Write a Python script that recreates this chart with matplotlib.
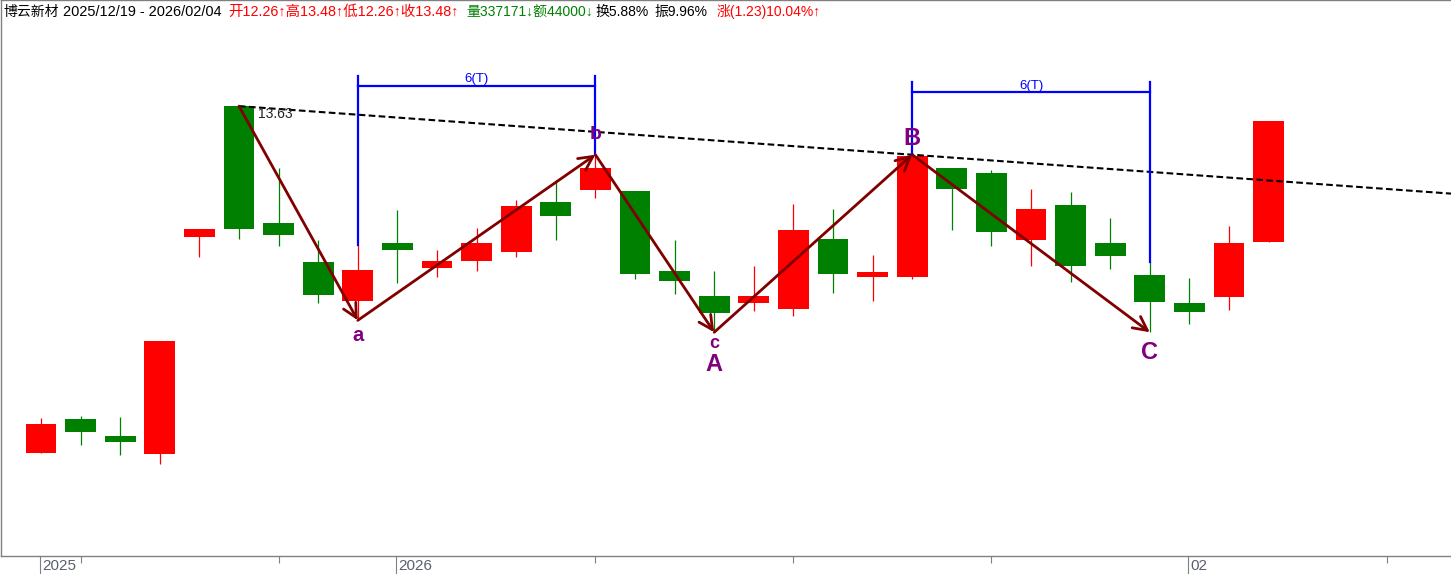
import matplotlib
matplotlib.use('Agg')
import matplotlib.pyplot as plt
from matplotlib.transforms import blended_transform_factory

# ---------------- data ----------------
opens  = [10.13, 10.48, 10.30, 10.12, 12.31, 13.63, 12.45, 12.06, 11.67, 12.25,
          12.00, 12.07, 12.16, 12.66, 12.78, 12.77, 11.97, 11.72, 11.64, 11.58,
          12.29, 11.91, 11.91, 13.01, 12.96, 12.28, 12.63, 12.25, 11.93, 11.65,
          11.71, 12.26]
highs  = [10.49, 10.51, 10.50, 11.26, 12.39, 13.63, 13.01, 12.28, 12.23, 12.58,
          12.18, 12.40, 12.68, 12.89, 13.14, 12.77, 12.28, 11.97, 12.02, 12.64,
          12.59, 12.13, 13.14, 13.01, 12.99, 12.79, 12.76, 12.50, 12.06, 11.90,
          12.42, 13.48]
lows   = [10.13, 10.21, 10.11, 10.02, 12.11, 12.29, 12.22, 11.65, 11.47, 11.85,
          11.91, 11.97, 12.11, 12.28, 12.70, 11.89, 11.74, 11.35, 11.56, 11.51,
          11.75, 11.67, 11.89, 12.38, 12.22, 12.02, 11.86, 11.99, 11.35, 11.43,
          11.57, 12.26]
closes = [10.43, 10.34, 10.24, 11.26, 12.39, 12.39, 12.33, 11.73, 11.98, 12.18,
          12.07, 12.25, 12.62, 12.52, 13.01, 11.94, 11.87, 11.54, 11.72, 12.38,
          11.94, 11.96, 13.13, 12.79, 12.36, 12.59, 12.02, 12.12, 11.66, 11.55,
          12.25, 13.48]

# wave points (candle index, price) and labels
wave_x = [5, 8, 14, 17, 22, 28]
wave_y = [13.63, 11.47, 13.14, 11.35, 13.14, 11.35]
trend_x = [5, 22]
trend_y = [13.63, 13.14]

x_labels = ["2025", "2026", "02"]
x_label_idx = [0, 9, 29]
minor_tick_idx = [1, 6, 14, 19, 24, 34]

header_parts = [
    (3,   "博云新材", "black", 10),
    (63,  "2025/12/19 - 2026/02/04", "black", 10.45),
    (228, "开12.26↑高13.48↑低12.26↑收13.48↑", "#ff0000", 10.4),
    (466, "量337171↓额44000↓", "#008000", 10),
    (595, "换5.88%", "black", 10),
    (654, "振9.96%", "black", 10),
    (717, "涨(1.23)10.04%↑", "#ff0000", 10),
]

# ---------------- figure ----------------
W, H = 1451, 574
fig = plt.figure(figsize=(W / 100, H / 100), dpi=100)
fig.patch.set_facecolor('white')
ax = fig.add_axes([1 / W, 18 / H, (W - 1) / W, 556 / H])

X0, STEP = 41.0, 39.6
K = 1.22 / 121.0          # price per pixel
def price_at(row):
    return 13.48 - (row - 121) * K

ax.set_xlim((1 - X0) / STEP, (W - X0) / STEP)
ax.set_ylim(price_at(556), price_at(0))

RED, GREEN = '#ff0000', '#008000'
idx = list(range(len(opens)))
cols = [RED if c >= o else GREEN for o, c in zip(opens, closes)]

ax.vlines(idx, lows, highs, colors=cols, linewidth=0.9, zorder=2)
bottoms = [min(o, c) for o, c in zip(opens, closes)]
heights = [max(abs(c - o), 0.02) for o, c in zip(opens, closes)]
ax.bar(idx, heights, bottom=bottoms, width=0.78, color=cols, linewidth=0, zorder=3)

# dashed trend line through two highs, extended to the right edge
slope = (trend_y[1] - trend_y[0]) / (trend_x[1] - trend_x[0])
xr = ax.get_xlim()[1]
ax.plot([trend_x[0], xr], [trend_y[0], trend_y[0] + slope * (xr - trend_x[0])],
        color='black', lw=1.5, linestyle=(0, (3.2, 1.6)), zorder=4)
ax.text(trend_x[0] + 0.48, price_at(114), "13.63", fontsize=10,
        family=['Liberation Sans'], color='#222222', va='center', ha='left', zorder=5)

# blue time brackets
BLUE = '#0000ff'
def bracket(i1, i2, top_row, bar_row, low1, low2, text_row):
    ax.plot([i1, i1], [price_at(top_row), low1], color=BLUE, lw=1.6, zorder=5)
    ax.plot([i2, i2], [price_at(top_row), low2], color=BLUE, lw=1.6, zorder=5)
    ax.plot([i1, i2], [price_at(bar_row), price_at(bar_row)], color=BLUE, lw=1.6, zorder=5)
    ax.text((i1 + i2) / 2, price_at(text_row), "6(T)", color=BLUE, fontsize=9.5,
            family=['Liberation Sans'], ha='center', va='center', zorder=6)

bracket(8, 14, 76, 86, highs[8], wave_y[2], 79)
bracket(22, 28, 82, 92, wave_y[4], highs[28], 86)

# wave arrows
DR = '#800000'
for k in range(len(wave_x) - 1):
    ax.annotate("", xy=(wave_x[k + 1], wave_y[k + 1]), xytext=(wave_x[k], wave_y[k]),
                arrowprops=dict(arrowstyle='->,head_length=0.55,head_width=0.28',
                                color=DR, lw=2.0, shrinkA=0, shrinkB=0,
                                mutation_scale=18), zorder=7)

# wave labels
PUR = '#800080'
lbl_font = ['Liberation Sans']
ax.text(8, price_at(335), "a", color=PUR, fontsize=14.5, fontweight='bold', family=lbl_font,
        ha='center', va='center', zorder=8)
ax.text(14, price_at(134), "b", color=PUR, fontsize=14, fontweight='bold', family=lbl_font,
        ha='center', va='center', zorder=8)
ax.text(17, price_at(343), "c", color=PUR, fontsize=13, fontweight='bold', family=lbl_font,
        ha='center', va='center', zorder=8)
ax.text(17, price_at(364), "A", color=PUR, fontsize=17, fontweight='bold', family=lbl_font,
        ha='center', va='center', zorder=8)
ax.text(22, price_at(138), "B", color=PUR, fontsize=17, fontweight='bold', family=lbl_font,
        ha='center', va='center', zorder=8)
ax.text(28, price_at(352), "C", color=PUR, fontsize=17, fontweight='bold', family=lbl_font,
        ha='center', va='center', zorder=8)

# spines / ticks
GRAY = '#808080'
for s in ['left', 'top', 'bottom']:
    ax.spines[s].set_color(GRAY)
    ax.spines[s].set_linewidth(1.0)
ax.spines['right'].set_visible(False)
ax.set_yticks([])
ax.set_xticks(minor_tick_idx)
ax.set_xticklabels([])
ax.tick_params(axis='x', length=5, width=0.8, color=GRAY, direction='out')

tr = blended_transform_factory(ax.transData, ax.transAxes)
for i, lab in zip(x_label_idx, x_labels):
    xs = i - 1.0 / STEP
    ax.plot([xs, xs], [0, -18 / 556], transform=tr, color=GRAY, lw=0.8, clip_on=False)
    ax.text(xs + 2.0 / STEP, -9.5 / 556, lab, transform=tr, fontsize=11,
            family=['Liberation Sans Narrow', 'Liberation Sans'], color='#5a6070',
            ha='left', va='center')

# header
for xp, txt, col, fs in header_parts:
    fig.text(xp / W, 1 - 11.5 / H, txt, color=col, fontsize=fs,
             family=['Liberation Sans', 'Noto Sans CJK SC'], ha='left', va='center')

fig.savefig('out.png', dpi=100, facecolor='white')
